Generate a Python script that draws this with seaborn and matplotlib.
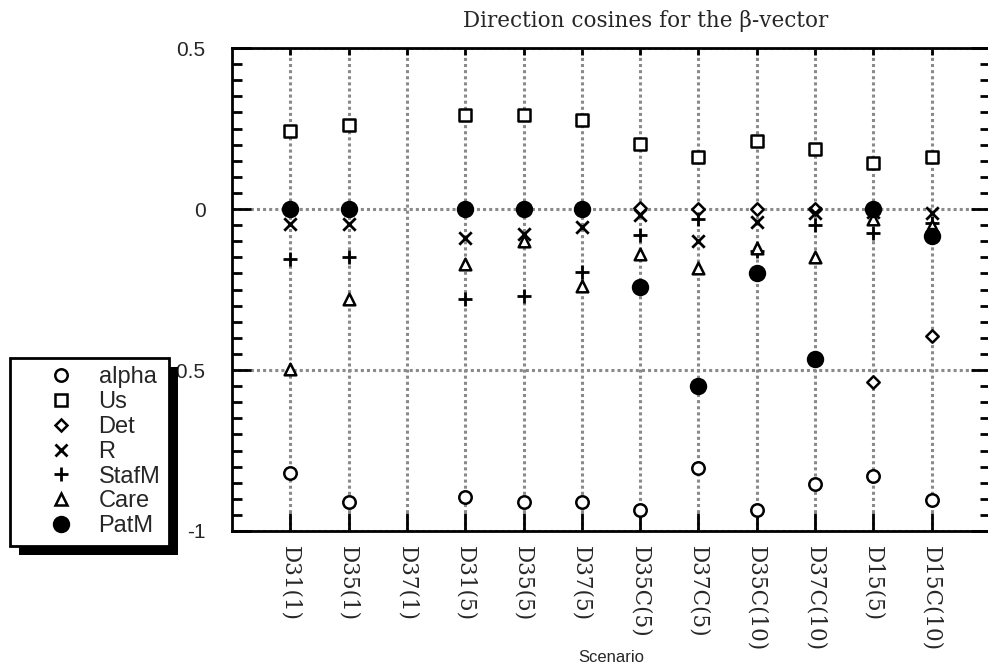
import numpy as np
import pandas as pd
import matplotlib
matplotlib.use("Agg")
import matplotlib.pyplot as plt
from matplotlib.lines import Line2D
from matplotlib.patches import Rectangle
import seaborn as sns

# scenario labels along the x axis
scenarios = ["D31(1)", "D35(1)", "D37(1)", "D31(5)", "D35(5)", "D37(5)",
             "D35C(5)", "D37C(5)", "D35C(10)", "D37C(10)", "D15(5)", "D15C(10)"]

nan = np.nan
# direction cosines (D37(1) has no values)
alpha = [-0.821, -0.911, nan, -0.895, -0.911, -0.911, -0.935, -0.803, -0.935, -0.854, -0.828, -0.904]
us    = [0.243, 0.261, nan, 0.293, 0.293, 0.276, 0.202, 0.160, 0.210, 0.185, 0.144, 0.160]
det   = [0.0, 0.0, nan, 0.0, 0.0, 0.0, 0.004, 0.0, 0.0, 0.0, -0.536, -0.394]
r     = [-0.048, -0.048, nan, -0.089, -0.079, -0.055, -0.019, -0.098, -0.041, -0.013, -0.010, -0.013]
stafm = [-0.155, -0.148, nan, -0.280, -0.270, -0.195, -0.081, -0.032, -0.129, -0.050, -0.075, -0.042]
care  = [-0.497, -0.280, nan, -0.172, -0.099, -0.239, -0.140, -0.182, -0.122, -0.148, -0.032, -0.052]
patm  = [0.0, 0.0, nan, 0.0, 0.0, 0.0, -0.241, -0.549, -0.198, -0.465, 0.0, -0.083]

series = {"alpha": alpha, "Us": us, "Det": det, "R": r,
          "StafM": stafm, "Care": care, "PatM": patm}

# marker, face colour, size
styles = {
    "alpha": ("o", "white", 80),
    "Us":    ("s", "white", 85),
    "Det":   ("D", "white", 40),
    "R":     ("x", "black", 80),
    "StafM": ("+", "black", 90),
    "Care":  ("^", "white", 70),
    "PatM":  ("o", "black", 115),
}

pos = np.arange(1, len(scenarios) + 1)
rows = []
for name, vals in series.items():
    for p, s, v in zip(pos, scenarios, vals):
        rows.append({"series": name, "pos": p, "scenario": s, "value": v})
df = pd.DataFrame(rows).dropna()

sns.set_style("white")
plt.rcParams["font.family"] = ["Liberation Sans", "DejaVu Sans"]

fig = plt.figure(figsize=(9.88, 6.7), dpi=100)
ax = fig.add_axes([232 / 988, 1 - 531 / 670, 758 / 988, 483 / 670])

for name in series:
    marker, face, size = styles[name]
    sub = df[df["series"] == name]
    if marker in ("x", "+"):
        sns.scatterplot(data=sub, x="pos", y="value", marker=marker, s=size,
                        color="black", linewidth=2, ax=ax, zorder=3)
    else:
        sns.scatterplot(data=sub, x="pos", y="value", marker=marker, s=size,
                        facecolor=face, edgecolor="black", linewidth=1.8,
                        ax=ax, zorder=3)

ax.set_xlim(0, 13)
ax.set_ylim(-1, 0.5)
ax.set_xticks(pos)
ax.set_xticklabels(scenarios, rotation=270, fontsize=15.5,
                   family="DejaVu Serif", va="top", ha="center")
ax.set_yticks([-1, -0.5, 0, 0.5])
ax.set_yticklabels(["-1", "-0.5", "0", "0.5"], fontsize=15)
ax.set_yticks(np.arange(-1, 0.5001, 0.05), minor=True)

ax.grid(True, which="major", color="#8a8a8a", linestyle=(0, (1, 1)), linewidth=2.2)
ax.set_axisbelow(True)

for sp in ax.spines.values():
    sp.set_linewidth(2)
    sp.set_color("black")

ax.tick_params(axis="both", which="both", direction="in", top=True, right=True,
               bottom=True, left=True, color="black", width=2)
ax.tick_params(axis="y", which="major", length=14, pad=19)
ax.tick_params(axis="y", which="minor", length=7)
ax.tick_params(axis="x", which="major", length=13, pad=11)
ax.tick_params(axis="x", which="minor", bottom=False, top=False)

ax.set_xlabel("Scenario", fontsize=12)
ax.xaxis.set_label_coords(0.5, -0.261)
ax.xaxis.label.set_va("center")
ax.set_ylabel("")

fig.text(646 / 988, 1 - 21 / 670, "Direction cosines for the \u03b2-vector",
         ha="center", va="center", fontsize=15.5, family="DejaVu Serif")

handles = []
for name in series:
    marker, face, size = styles[name]
    if marker in ("x", "+"):
        h = Line2D([], [], linestyle="none", marker=marker, color="black",
                   markersize=np.sqrt(size), markeredgewidth=2)
    else:
        h = Line2D([], [], linestyle="none", marker=marker, markerfacecolor=face,
                   markeredgecolor="black", markersize=np.sqrt(size),
                   markeredgewidth=1.8)
    handles.append(h)

leg = fig.legend(handles, list(series.keys()), loc="upper left",
                 bbox_to_anchor=(10 / 988, 1 - 358 / 670), fontsize=17,
                 frameon=True, fancybox=False, edgecolor="black",
                 facecolor="white", framealpha=1,
                 labelspacing=0.12, handletextpad=-0.2, borderpad=0.35,
                 borderaxespad=0, handlelength=3.6)
leg.get_frame().set_linewidth(2)
leg.set_zorder(10)

fig.canvas.draw()
# short top ticks, long bottom ticks
for t in ax.xaxis.get_major_ticks():
    t.tick2line.set_markersize(5)

bb = leg.get_window_extent().transformed(fig.transFigure.inverted())
dx, dy = 9 / 988, 9 / 670
shadow = Rectangle((bb.x0 + dx, bb.y0 - dy), bb.width, bb.height,
                   transform=fig.transFigure, facecolor="black",
                   edgecolor="none", zorder=9)
fig.patches.append(shadow)

fig.savefig("out.png", dpi=100)
